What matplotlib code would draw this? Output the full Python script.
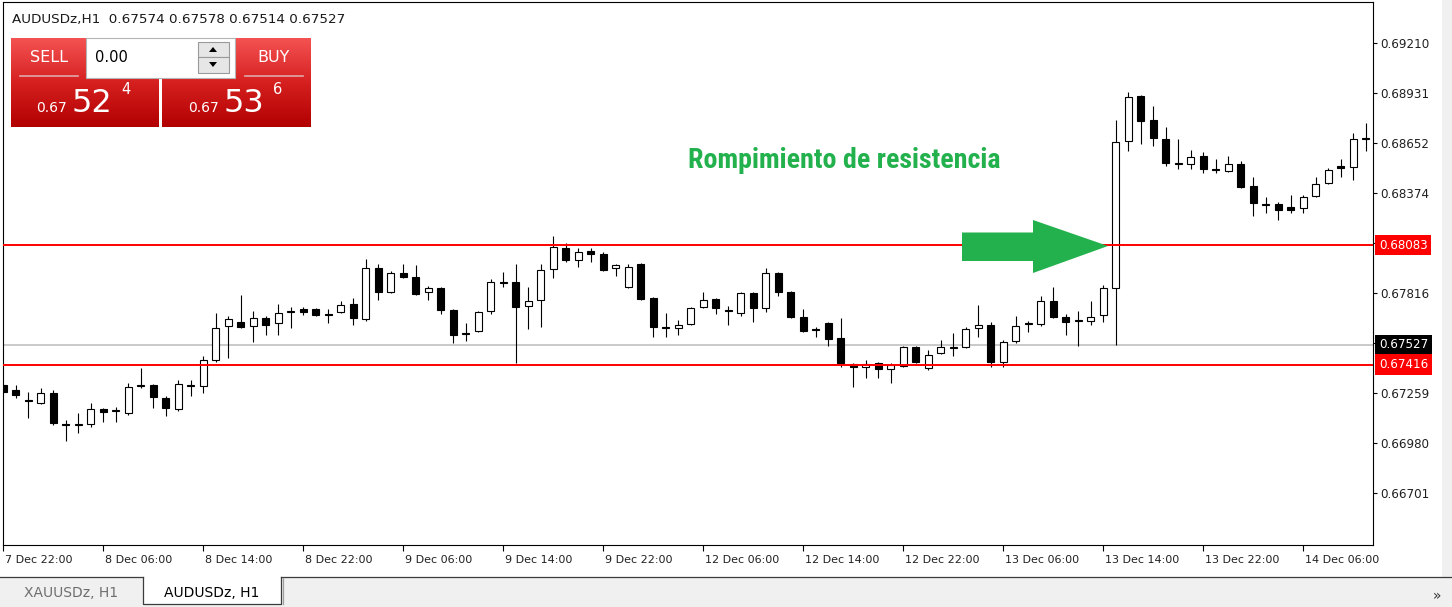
import numpy as np
import matplotlib
matplotlib.use("Agg")
import matplotlib.pyplot as plt
import matplotlib.transforms as mtransforms
from matplotlib import font_manager
from matplotlib.patches import Rectangle, Polygon
from matplotlib.colors import LinearSegmentedColormap

# AUDUSDz H1 bars, first bar = 7 Dec 22:00
opens = [0.67302, 0.67274, 0.67218, 0.67201, 0.67257, 0.67084, 0.67079, 0.67084, 0.67168, 0.67157,
         0.67146, 0.67296, 0.67302, 0.67229, 0.67168, 0.67296, 0.67296, 0.67441, 0.67631, 0.67653,
         0.67631, 0.67676, 0.67648, 0.67709, 0.67726, 0.67726, 0.67698, 0.67709, 0.67754, 0.67670,
         0.67955, 0.67821, 0.67927, 0.67904, 0.67821, 0.67843, 0.67720, 0.67586, 0.67603, 0.67715,
         0.67877, 0.67877, 0.67743, 0.67776, 0.67949, 0.68066, 0.67999, 0.68050, 0.68033, 0.67955,
         0.67849, 0.67977, 0.67787, 0.67625, 0.67620, 0.67642, 0.67737, 0.67782, 0.67720, 0.67704,
         0.67815, 0.67732, 0.67927, 0.67821, 0.67681, 0.67614, 0.67648, 0.67564, 0.67419, 0.67402,
         0.67425, 0.67391, 0.67408, 0.67514, 0.67397, 0.67480, 0.67508, 0.67514, 0.67620, 0.67637,
         0.67430, 0.67547, 0.67642, 0.67642, 0.67771, 0.67681, 0.67659, 0.67659, 0.67692, 0.67843,
         0.68663, 0.68914, 0.68781, 0.68675, 0.68541, 0.68535, 0.68580, 0.68507, 0.68496, 0.68535,
         0.68412, 0.68312, 0.68312, 0.68295, 0.68289, 0.68356, 0.68429, 0.68524, 0.68518, 0.68675]
highs = [0.67313, 0.67302, 0.67263, 0.67285, 0.67274, 0.67107, 0.67146, 0.67201, 0.67174, 0.67179,
         0.67313, 0.67397, 0.67307, 0.67240, 0.67330, 0.67330, 0.67464, 0.67704, 0.67687, 0.67804,
         0.67715, 0.67687, 0.67754, 0.67737, 0.67737, 0.67732, 0.67726, 0.67771, 0.67787, 0.68005,
         0.67977, 0.67938, 0.67977, 0.67971, 0.67854, 0.67849, 0.67726, 0.67648, 0.67715, 0.67893,
         0.67932, 0.67977, 0.67849, 0.67977, 0.68133, 0.68094, 0.68066, 0.68066, 0.68044, 0.67977,
         0.67977, 0.67983, 0.67793, 0.67704, 0.67665, 0.67737, 0.67821, 0.67787, 0.67743, 0.67821,
         0.67821, 0.67955, 0.67932, 0.67826, 0.67726, 0.67625, 0.67653, 0.67676, 0.67425, 0.67441,
         0.67430, 0.67425, 0.67519, 0.67519, 0.67497, 0.67553, 0.67592, 0.67625, 0.67748, 0.67653,
         0.67553, 0.67687, 0.67659, 0.67798, 0.67849, 0.67698, 0.67715, 0.67771, 0.67860, 0.68781,
         0.68937, 0.68920, 0.68859, 0.68741, 0.68675, 0.68613, 0.68602, 0.68563, 0.68580, 0.68552,
         0.68462, 0.68351, 0.68323, 0.68362, 0.68362, 0.68462, 0.68513, 0.68563, 0.68708, 0.68764]
lows = [0.67252, 0.67229, 0.67118, 0.67196, 0.67079, 0.66989, 0.67034, 0.67067, 0.67095, 0.67095,
        0.67134, 0.67285, 0.67174, 0.67129, 0.67157, 0.67240, 0.67257, 0.67430, 0.67453, 0.67620,
        0.67542, 0.67581, 0.67581, 0.67620, 0.67692, 0.67687, 0.67648, 0.67704, 0.67637, 0.67659,
        0.67776, 0.67815, 0.67899, 0.67804, 0.67776, 0.67698, 0.67536, 0.67547, 0.67598, 0.67698,
        0.67849, 0.67425, 0.67614, 0.67625, 0.67899, 0.67988, 0.67960, 0.67988, 0.67938, 0.67910,
        0.67843, 0.67776, 0.67570, 0.67570, 0.67581, 0.67637, 0.67732, 0.67698, 0.67637, 0.67687,
        0.67653, 0.67709, 0.67798, 0.67676, 0.67598, 0.67570, 0.67519, 0.67402, 0.67291, 0.67341,
        0.67341, 0.67313, 0.67402, 0.67425, 0.67386, 0.67475, 0.67464, 0.67508, 0.67570, 0.67402,
        0.67402, 0.67536, 0.67598, 0.67631, 0.67676, 0.67581, 0.67519, 0.67637, 0.67653, 0.67525,
        0.68608, 0.68647, 0.68635, 0.68524, 0.68507, 0.68507, 0.68485, 0.68485, 0.68490, 0.68401,
        0.68245, 0.68262, 0.68223, 0.68262, 0.68262, 0.68351, 0.68423, 0.68462, 0.68446, 0.68608]
closes = [0.67263, 0.67246, 0.67213, 0.67257, 0.67090, 0.67079, 0.67084, 0.67168, 0.67151, 0.67162,
          0.67291, 0.67302, 0.67235, 0.67174, 0.67307, 0.67302, 0.67441, 0.67620, 0.67670, 0.67625,
          0.67676, 0.67637, 0.67704, 0.67715, 0.67709, 0.67692, 0.67692, 0.67748, 0.67676, 0.67955,
          0.67821, 0.67927, 0.67904, 0.67810, 0.67843, 0.67720, 0.67581, 0.67592, 0.67709, 0.67877,
          0.67871, 0.67737, 0.67771, 0.67944, 0.68072, 0.67999, 0.68044, 0.68033, 0.67944, 0.67971,
          0.67960, 0.67782, 0.67625, 0.67620, 0.67637, 0.67732, 0.67776, 0.67732, 0.67715, 0.67815,
          0.67732, 0.67927, 0.67821, 0.67681, 0.67603, 0.67609, 0.67558, 0.67425, 0.67402, 0.67419,
          0.67391, 0.67413, 0.67514, 0.67430, 0.67469, 0.67514, 0.67514, 0.67614, 0.67637, 0.67430,
          0.67542, 0.67631, 0.67648, 0.67771, 0.67681, 0.67653, 0.67665, 0.67681, 0.67843, 0.68658,
          0.68909, 0.68775, 0.68680, 0.68541, 0.68535, 0.68574, 0.68507, 0.68502, 0.68535, 0.68407,
          0.68317, 0.68306, 0.68278, 0.68278, 0.68351, 0.68423, 0.68502, 0.68513, 0.68675, 0.68680]

time_labels = ["7 Dec 22:00", "8 Dec 06:00", "8 Dec 14:00", "8 Dec 22:00", "9 Dec 06:00",
               "9 Dec 14:00", "9 Dec 22:00", "12 Dec 06:00", "12 Dec 14:00", "12 Dec 22:00",
               "13 Dec 06:00", "13 Dec 14:00", "13 Dec 22:00", "14 Dec 06:00"]
label_bars = [0, 8, 16, 24, 32, 40, 48, 56, 64, 72, 80, 88, 96, 104]

price_ticks = [0.66701, 0.66980, 0.67259, 0.67537, 0.67816, 0.68095, 0.68374, 0.68652, 0.68931, 0.69210]
resistance = 0.68083
support = 0.67416
bid = 0.67527

W, H = 1452, 607
fig = plt.figure(figsize=(W / 100, H / 100), dpi=100)
fig.patch.set_facecolor("white")
plt.rcParams["font.family"] = ["DejaVu Sans"]

# chart frame in pixels: x 3..1373, y 2..545
ax = fig.add_axes([3 / W, (H - 545) / H, 1370 / W, 543 / H])
ax.set_facecolor("white")

x = np.arange(len(opens))
o = np.array(opens)
c = np.array(closes)
up = c >= o
ax.vlines(x, lows, highs, color="black", lw=0.8, zorder=2)
ax.bar(x, np.abs(c - o), bottom=np.minimum(o, c), width=0.56,
       color=np.where(up, "white", "black"), edgecolor="black", lw=0.8, zorder=3)

ax.axhline(resistance, color="#ff0000", lw=1.4, zorder=4)
ax.axhline(support, color="#ff0000", lw=1.4, zorder=4)
ax.axhline(bid, color="#c0c0c0", lw=1.2, zorder=1)

ax.set_xlim(0, 109.6)
ax.set_ylim(0.66409, 0.69439)

ax.yaxis.tick_right()
ax.set_yticks(price_ticks)
ax.set_yticklabels(["%.5f" % p for p in price_ticks])
ax.tick_params(axis="y", direction="out", length=3, width=0.8, pad=2.5,
               labelsize=8.6, labelcolor="#202020")
ax.set_xticks(label_bars)
ax.set_xticklabels(time_labels)
ax.tick_params(axis="x", direction="out", length=4, width=0.8, pad=3,
               labelsize=8, labelcolor="#202020")
shift = mtransforms.ScaledTranslation(2 / 100, 0, fig.dpi_scale_trans)
for lbl in ax.get_xticklabels():
    lbl.set_horizontalalignment("left")
    lbl.set_transform(lbl.get_transform() + shift)
for s in ax.spines.values():
    s.set_color("black")
    s.set_linewidth(0.8)

# price tags on the right scale
tr = mtransforms.blended_transform_factory(ax.transAxes, ax.transData)
for val, bg in [(resistance, "#ff0000"), (bid, "black"), (support, "#ff0000")]:
    ax.text(1.0 + 6 / 1370, val, "%.5f" % val, transform=tr, ha="left", va="center",
            fontsize=8.6, color="white", zorder=10, clip_on=False,
            bbox=dict(boxstyle="square,pad=0.3", fc=bg, ec="none"))

# overlay in pixel coordinates for the terminal widgets
ov = fig.add_axes([0, 0, 1, 1], zorder=5)
ov.patch.set_visible(False)
ov.axis("off")

red = LinearSegmentedColormap.from_list("btn", ["#f45252", "#d62020", "#b20000"])
grad = np.linspace(0, 1, 100).reshape(-1, 1)
for x0, x1 in [(11, 159), (162, 311)]:
    ov.imshow(grad, cmap=red, extent=(x0, x1, 127, 38), origin="upper", aspect="auto", zorder=1)

# lot size box
ov.add_patch(Rectangle((86, 38), 149, 40, fc="white", ec="#b4b4b4", lw=0.8, zorder=2))
ov.text(95, 58, "0.00", fontsize=10.5, color="black", va="center", ha="left", zorder=3)
ov.add_patch(Rectangle((198, 42), 31, 15, fc="#e6e6e6", ec="#9a9a9a", lw=0.8, zorder=3))
ov.add_patch(Rectangle((198, 57), 31, 16, fc="#e6e6e6", ec="#9a9a9a", lw=0.8, zorder=3))
ov.add_patch(Polygon([(209, 52), (217, 52), (213, 47)], fc="black", ec="none", zorder=4))
ov.add_patch(Polygon([(209, 62), (217, 62), (213, 67)], fc="black", ec="none", zorder=4))

ov.text(49, 57, "SELL", fontsize=11.5, color="white", ha="center", va="center", zorder=3)
ov.text(274, 57, "BUY", fontsize=11.5, color="white", ha="center", va="center", zorder=3)
ov.plot([20, 78], [76, 76], color="#e0a8a8", lw=1.2, zorder=3)
ov.plot([245, 303], [76, 76], color="#e0a8a8", lw=1.2, zorder=3)

for x0, big, small in [(36, "52", "4"), (188, "53", "6")]:
    ov.text(x0, 108, "0.67", fontsize=10, color="white", va="center", ha="left", zorder=3)
    ov.text(x0 + 36, 103, big, fontsize=23, color="white", va="center", ha="left", zorder=3)
    ov.text(x0 + 85, 90, small, fontsize=10.5, color="white", va="center", ha="left", zorder=3)

ov.text(12, 20, "AUDUSDz,H1  0.67574 0.67578 0.67514 0.67527", fontsize=9.7,
        color="#1a1a1a", va="center", ha="left")

# annotation arrow
ov.add_patch(Polygon([(962, 232.5), (1033, 232.5), (1033, 220), (1108, 246), (1033, 273),
                      (1033, 261), (962, 261)], fc="#22b14c", ec="none", zorder=6))

# narrow bold face for the annotation if one is installed
narrow = None
for f in font_manager.fontManager.ttflist:
    name = f.fname.lower()
    if ("narrow" in name or "condensed" in name) and "bold" in name and "italic" not in name \
            and "oblique" not in name:
        narrow = f.fname
        if "liberation" in name:
            break
if narrow:
    fp = font_manager.FontProperties(fname=narrow, size=20)
else:
    fp = font_manager.FontProperties(family="DejaVu Sans", weight="bold", size=20)
note = ov.text(688, 161, "Rompimiento de resistencia", fontproperties=fp, color="#22b14c",
               ha="left", va="center", zorder=6)
# keep the label at its width of about 312 px
fig.canvas.draw()
wpx = note.get_window_extent().width
fp.set_size(20 * 312 / wpx)
note.set_fontproperties(fp)

# right strip and tab bar
ov.add_patch(Rectangle((1442, 0), 10, 577, fc="#f0f0f0", ec="none", zorder=1))
ov.add_patch(Rectangle((0, 577), 1452, 30, fc="#f0f0f0", ec="none", zorder=1))
ov.add_patch(Rectangle((143, 576), 138, 28, fc="white", ec="none", zorder=2))
ov.plot([0, 143], [576.5, 576.5], color="#3c3c3c", lw=0.9, zorder=3)
ov.plot([281, 1452], [576.5, 576.5], color="#3c3c3c", lw=0.9, zorder=3)
ov.plot([143, 143, 281, 281], [576.5, 604, 604, 576.5], color="#3c3c3c", lw=0.9, zorder=3)
ov.plot([283, 283], [578, 604], color="#a0a0a0", lw=0.9, zorder=3)
ov.text(71, 593, "XAUUSDz, H1", fontsize=10, color="#6e6e6e", ha="center", va="center")
ov.text(212, 593, "AUDUSDz, H1", fontsize=10, color="black", ha="center", va="center")
ov.text(1437, 596, "\u00bb", fontsize=10, color="#333333", ha="center", va="center")

ov.set_xlim(0, W)
ov.set_ylim(H, 0)

fig.savefig("out.png", dpi=100)
